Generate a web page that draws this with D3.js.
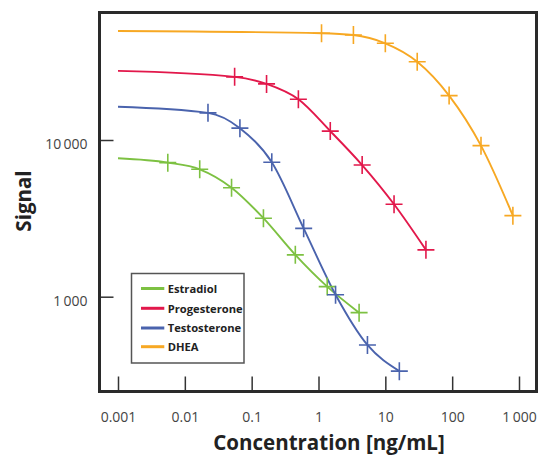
<!DOCTYPE html>
<html>
<head>
<meta charset="utf-8">
<script src="https://cdn.jsdelivr.net/npm/d3@7"></script>
<style>
  html, body { margin: 0; padding: 0; background: #fff; }
  svg { display: block; }
  .tick-label { font-family: "Open Sans", sans-serif; font-size: 14px; fill: #444; }
  .axis-title { font-family: "Open Sans", sans-serif; font-weight: 700; font-size: 20.5px; fill: #222; }
  .legend-text { font-family: "Open Sans", sans-serif; font-weight: 700; font-size: 11.2px; fill: #222; }
</style>
</head>
<body>
<svg id="chart" width="540" height="457"></svg>
<script>
// Competitive immunoassay calibration curves (3-fold dilution series)
const seriesNames = ["Estradiol", "Progesterone", "Testosterone", "DHEA"];
const seriesColors = ["#7dc142", "#e2184b", "#4a63ad", "#f7a823"];

// measured standards: concentration [ng/mL] and signal
const estradiolConc = [0.00556, 0.0167, 0.05, 0.15, 0.45, 1.35, 4.05];
const estradiolSignal = [7170, 6500, 4960, 3170, 1850, 1160, 791];
const progesteroneConc = [0.0556, 0.167, 0.5, 1.5, 4.5, 13.5, 40.5];
const progesteroneSignal = [25300, 22800, 18200, 11400, 6920, 3890, 1990];
const testosteroneConc = [0.0222, 0.0667, 0.2, 0.6, 1.8, 5.4, 16.2];
const testosteroneSignal = [14900, 11900, 7210, 2730, 1030, 492, 335];
const dheaConc = [1.11, 3.33, 10, 30, 90, 270, 810];
const dheaSignal = [48000, 46800, 41400, 31600, 19200, 9200, 3290];

// fitted-curve upper plateau, traced from 0.001 ng/mL
const curveStartConc = [0.001, 0.001, 0.001, 0.001];
const curveStartSignal = [7640, 27600, 16300, 49600];

// axis ticks
const xTickValues = [0.001, 0.01, 0.1, 1, 10, 100, 1000];
const xTickLabels = ["0.001", "0.01", "0.1", "1", "10", "100", "1\u2009000"];
const yTickValues = [1000, 10000];
const yTickLabels = ["1\u2009000", "10\u2009000"];

const concs = [estradiolConc, progesteroneConc, testosteroneConc, dheaConc];
const signals = [estradiolSignal, progesteroneSignal, testosteroneSignal, dheaSignal];

const svg = d3.select("#chart");

const frame = { left: 99.5, right: 536.5, top: 12.5, bottom: 391.5 };

const x = d3.scaleLog().domain([0.001, 1000]).range([118, 519]);
const y = d3.scaleLog().domain([1000, 10000]).range([296.7, 140]);

// axes with inward ticks
const xAxis = d3.axisBottom(x)
  .tickValues(xTickValues)
  .tickFormat((d, i) => xTickLabels[i])
  .tickSizeInner(-15).tickSizeOuter(0).tickPadding(20.5);
const gx = svg.append("g").attr("transform", `translate(0,${frame.bottom})`).call(xAxis);

const yAxis = d3.axisLeft(y)
  .tickValues(yTickValues)
  .tickFormat((d, i) => yTickLabels[i])
  .tickSizeInner(-14).tickSizeOuter(0).tickPadding(12);
const gy = svg.append("g").attr("transform", `translate(${frame.left},0)`).call(yAxis);

[gx, gy].forEach(g => {
  g.select(".domain").remove();
  g.selectAll(".tick line").attr("stroke", "#333").attr("stroke-width", 1.5);
  g.selectAll(".tick text").attr("class", "tick-label").attr("font-family", null).attr("font-size", null);
});
gy.selectAll(".tick text").attr("dy", "0.6em");

// curves
const line = d3.line()
  .x(d => x(d[0]))
  .y(d => y(d[1]))
  .curve(d3.curveMonotoneX);

const plot = svg.append("g");
seriesNames.forEach((name, s) => {
  const pts = [[curveStartConc[s], curveStartSignal[s]]]
    .concat(concs[s].map((c, i) => [c, signals[s][i]]));
  plot.append("path")
    .datum(pts)
    .attr("d", line)
    .attr("fill", "none")
    .attr("stroke", seriesColors[s])
    .attr("stroke-width", 1.9);
});

// cross markers
seriesNames.forEach((name, s) => {
  plot.append("g").selectAll("path")
    .data(concs[s].map((c, i) => [c, signals[s][i]]))
    .join("path")
    .attr("d", d => {
      const px = x(d[0]), py = y(d[1]);
      return `M${px - 8.5},${py}H${px + 8.5}M${px},${py - 9}V${py + 9}`;
    })
    .attr("fill", "none")
    .attr("stroke", seriesColors[s])
    .attr("stroke-width", 1.6);
});

// frame
svg.append("rect")
  .attr("x", frame.left).attr("y", frame.top)
  .attr("width", frame.right - frame.left)
  .attr("height", frame.bottom - frame.top)
  .attr("fill", "none")
  .attr("stroke", "#2a2a2a")
  .attr("stroke-width", 3);

// legend
const legend = svg.append("g");
legend.append("rect")
  .attr("x", 131.5).attr("y", 273.5).attr("width", 112.5).attr("height", 89.5)
  .attr("fill", "#fff").attr("stroke", "#555").attr("stroke-width", 1.5);
const rowY = [288.5, 308.3, 328, 346.7];
seriesNames.forEach((name, s) => {
  legend.append("line")
    .attr("x1", 141).attr("x2", 164.3)
    .attr("y1", rowY[s]).attr("y2", rowY[s])
    .attr("stroke", seriesColors[s]).attr("stroke-width", 3);
  legend.append("text")
    .attr("class", "legend-text")
    .attr("x", 167.7).attr("y", rowY[s] + 4.2)
    .text(name);
});

// axis titles
svg.append("text")
  .attr("class", "axis-title")
  .attr("text-anchor", "middle")
  .attr("x", 329).attr("y", 450)
  .text("Concentration [ng/mL]");
svg.append("text")
  .attr("class", "axis-title")
  .attr("text-anchor", "middle")
  .attr("transform", "translate(31,201) rotate(-90)")
  .text("Signal");
</script>
</body>
</html>
